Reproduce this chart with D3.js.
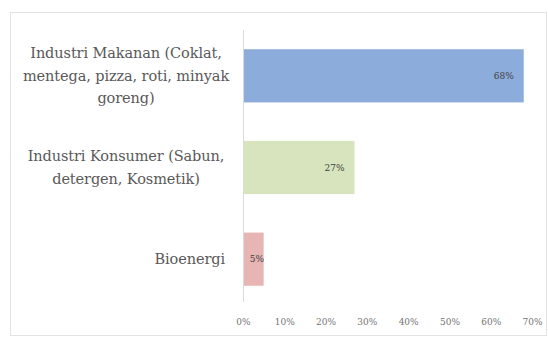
<!DOCTYPE html>
<html>
<head>
<meta charset="utf-8">
<script src="https://cdn.jsdelivr.net/npm/d3@7"></script>
<style>
  body { margin: 0; background: #fff; }
</style>
</head>
<body>
<svg id="chart" width="548" height="340"></svg>
<script>

// data
var categories = [
	["Industri Makanan (Coklat,", "mentega, pizza, roti, minyak", "goreng)"],
	["Industri Konsumer (Sabun,", "detergen, Kosmetik)"],
	["Bioenergi"]
];
var values = [0.68, 0.27, 0.05];
var barColours = ["#8cacdb", "#d7e4bd", "#e6b5b4"];
var tickValues = [0, 0.1, 0.2, 0.3, 0.4, 0.5, 0.6, 0.7];

var serif = "'DejaVu Serif', serif";


var svg = d3.select("#chart");

// faint frame around the chart
svg.append("rect")
	.attr("x", 10.5).attr("y", 12.5)
	.attr("width", 536).attr("height", 323)
	.style("fill", "none")
	.style("stroke", "#e3e3e3");

var x = d3.scaleLinear()
			.domain([0, 0.7])
			.range([243, 532]);

var y = d3.scaleBand()
			.domain(d3.range(categories.length))
			.range([30, 305])
			.paddingInner(0.42)
			.paddingOuter(0.21);

// vertical category axis line
svg.append("line")
	.attr("x1", x(0) + 0.5).attr("x2", x(0) + 0.5)
	.attr("y1", 30).attr("y2", 302)
	.style("stroke", "#d9d9d9");

svg.append("g")
	.selectAll("rect")
	.data(values)
	.enter().append("rect")
	.attr("x", x(0) + 1)
	.attr("y", function(d, i) { return y(i); })
	.attr("width", function(d) { return x(d) - x(0) - 1; })
	.attr("height", y.bandwidth())
	.style("fill", function(d, i) { return barColours[i]; });

// data labels, inside end of the bar
svg.append("g")
	.selectAll("text")
	.data(values)
	.enter().append("text")
	.attr("x", function(d) { return Math.max(x(d) - 10, x(0) + 21); })
	.attr("y", function(d, i) { return y(i) + y.bandwidth() / 2; })
	.attr("dy", "0.35em")
	.attr("text-anchor", "end")
	.style("font-family", serif)
	.style("font-size", "9px")
	.style("fill", "#404040")
	.text(function(d) { return d3.format(".0%")(d); });

// category labels: wrapped ones centered, single line right aligned
var labels = svg.append("g")
				.selectAll("text")
				.data(categories)
				.enter().append("text")
				.style("font-family", serif)
				.style("font-size", "14.5px")
				.style("letter-spacing", "-0.1px")
				.style("fill", "#595959")
				.attr("text-anchor", function(d) { return d.length > 1 ? "middle" : "end"; });

labels.each(function(lines, i) {
	var cy = y(i) + y.bandwidth() / 2;
	var lineH = 22.5;
	var top = cy - (lines.length - 1) * lineH / 2;
	var tx = lines.length > 1 ? 126 : 225;
	d3.select(this).selectAll("tspan")
		.data(lines)
		.enter().append("tspan")
		.attr("x", tx)
		.attr("y", function(d, j) { return top + j * lineH; })
		.attr("dy", "0.35em")
		.text(function(d) { return d; });
});

// value axis labels (no line)
var xAxis = svg.append("g")
				.attr("transform", "translate(0,322)")
				.call(d3.axisBottom(x)
						.tickValues(tickValues)
						.tickSize(0)
						.tickPadding(0)
						.tickFormat(d3.format(".0%")));

xAxis.attr("font-family", null);
xAxis.select(".domain").remove();
xAxis.selectAll("text")
	.attr("dy", "0.35em")
	.style("font-family", serif)
	.style("font-size", "9px")
	.style("fill", "#737373");

</script>
</body>
</html>
